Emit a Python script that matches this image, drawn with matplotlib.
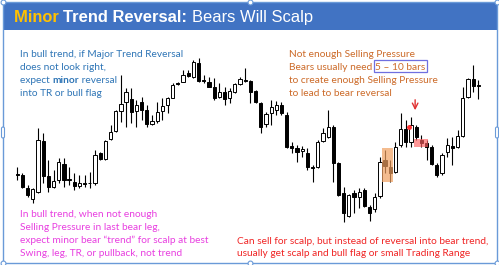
import numpy as np
import matplotlib
matplotlib.use("Agg")
import matplotlib.pyplot as plt
from matplotlib.patches import Rectangle, FancyBboxPatch

# candles (arbitrary price units)
opens = [76, 75, 62, 51, 58, 109, 74, 63, 70, 86, 71, 68, 64, 67, 67.5, 67, 97, 91, 111, 119,
         139, 148, 151, 139, 148, 140, 126, 129, 139, 145, 152, 167, 168, 177, 173, 187, 170, 168, 163, 153,
         158, 152, 158, 166, 170, 169, 159, 147, 126, 137, 140, 145, 135, 104, 102, 99, 97, 83, 83, 109,
         113, 123, 87, 57, 34, 57, 53, 60, 43, 41, 54, 90, 83, 78, 105, 121, 108, 123, 110, 107,
         103, 85, 77, 98, 104, 103, 114, 153, 171, 165]
highs = [83, 77, 65, 62, 122, 117, 90, 80, 92, 92, 83, 77, 75, 75, 78, 100, 98, 110, 125, 140,
         175, 162, 162, 150, 153, 145, 135, 148, 152, 153, 167, 168, 180, 180, 190, 192, 175, 173, 172, 167,
         163, 162, 167, 173, 182, 170, 160, 148, 138, 150, 149, 148, 138, 108, 105, 104, 102, 85, 110, 122,
         140, 125, 88, 63, 56, 60, 62, 62, 45, 57, 93, 100, 90, 108, 137, 130, 133, 125, 115, 110,
         105, 87, 97, 112, 113, 120, 163, 172, 185, 170]
lows = [70, 62, 53, 47, 57, 67, 58, 62, 67, 63, 65, 60, 62, 63, 62, 65, 90, 90, 110, 118,
        128, 123, 127, 123, 130, 123, 125, 127, 130, 137, 152, 165, 168, 173, 172, 168, 167, 163, 150, 152,
        145, 147, 157, 165, 168, 147, 147, 117, 123, 125, 135, 135, 102, 97, 88, 93, 80, 68, 82, 108,
        112, 68, 54, 28, 33, 37, 42, 43, 29, 38, 52, 77, 68, 77, 103, 103, 103, 110, 103, 90,
        85, 73, 75, 93, 85, 102, 113, 152, 158, 151]
closes = [75, 63, 55, 61, 110, 74, 63, 69, 88, 70, 70, 64, 67, 66.5, 67, 95, 91, 109, 118, 139,
          146, 158, 138, 145, 140, 126, 129, 138, 144, 152, 165, 166.5, 175, 174, 188, 169, 169.5, 163, 152, 158,
          151, 159, 166, 171, 169.5, 158, 148, 123, 136, 143, 145, 137, 103, 102, 98, 101, 83, 82.5, 108, 117,
          123, 87, 55, 37, 55, 53, 58, 44, 37, 53, 88, 84, 77, 103, 121, 108, 125, 113, 107, 103,
          86, 75, 95, 105, 102, 114, 152, 171, 164, 164.5]

fig = plt.figure(figsize=(4.99, 2.65), dpi=100)
fig.patch.set_facecolor("white")

# price chart
ax = fig.add_axes([0, 0, 1, 1])
ax.set_xlim(-3.34, 92.99)
ax.set_ylim(-15, 250)
ax.axis("off")

x = np.arange(len(opens))
o = np.array(opens, dtype=float)
c = np.array(closes, dtype=float)
h = np.array(highs, dtype=float)
l = np.array(lows, dtype=float)
up = c >= o
ax.vlines(x, l, h, color="black", lw=0.8, zorder=2)
ax.bar(x[up], c[up] - o[up], bottom=o[up], width=0.62, color="white",
       edgecolor="black", lw=0.7, zorder=3)
ax.bar(x[~up], o[~up] - c[~up], bottom=c[~up], width=0.62, color="black",
       edgecolor="black", lw=0.7, zorder=3)

# highlight boxes, signal dot and arrow
ax.add_patch(Rectangle((70.4, 68), 2.1, 34, color="#F0A060", alpha=0.7, lw=0, zorder=4))
ax.add_patch(Rectangle((76.6, 103), 2.7, 8, color="#FF6060", alpha=0.65, lw=0, zorder=4))
ax.plot([75.6], [123], "o", color="#FF3030", ms=2.5, zorder=5)
ax.annotate("", xy=(76.8, 137), xytext=(76.8, 153),
            arrowprops=dict(arrowstyle="->", color="#E03030", lw=1.0))

# slide overlay in pixel units
ov = fig.add_axes([0, 0, 1, 1], zorder=5)
ov.set_xlim(0, 499)
ov.set_ylim(265, 0)
ov.axis("off")
ov.patch.set_alpha(0)

ov.add_patch(Rectangle((3, 2), 494, 27.5, color="#4173C3", lw=0))
ov.add_patch(Rectangle((3, 2), 494, 261, fill=False, edgecolor="#6A9AD8", lw=1.0))
for hx, hy in [(3, 2), (250, 2), (497, 2), (3, 263), (250, 263), (497, 263)]:
    ov.plot([hx], [hy], "o", ms=3.5, mfc="white", mec="#6A9AD8", mew=0.8)
for hx in [3, 497]:
    ov.add_patch(FancyBboxPatch((hx - 1.5, 127), 3, 11, boxstyle="round,pad=0,rounding_size=1.5",
                                fc="white", ec="#6A9AD8", lw=0.8))

renderer = fig.canvas.get_renderer()


def runs(x0, y0, parts, size, family):
    xx = x0
    out = []
    for s, col, wt in parts:
        t = ov.text(xx, y0, s, color=col, fontsize=size, fontweight=wt,
                    family=family, va="baseline", ha="left")
        bb = t.get_window_extent(renderer)
        out.append((xx, bb.width))
        xx += bb.width
    return out


# title
runs(14, 22, [("Minor ", "#FFC000", "bold"), ("Trend Reversal: ", "white", "bold"),
              ("Bears Will Scalp", "white", "normal")], 11.9, "Liberation Sans")

fs = 7.25
fam = "Lato"
blue = "#2E75B6"
runs(20, 57, [("In bull trend, if Major Trend Reversal", blue, "normal")], fs, fam)
runs(20, 70, [("does not look right,", blue, "normal")], fs, fam)
runs(20, 83, [("expect ", blue, "normal"), ("minor", blue, "bold"), (" reversal", blue, "normal")], fs, fam)
runs(20, 96, [("into TR or bull flag", blue, "normal")], fs, fam)

orange = "#CC6A28"
runs(289, 57, [("Not enough Selling Pressure", orange, "normal")], fs, fam)
seg = runs(289, 70, [("Bears usually need ", orange, "normal"), ("5 \u2013 10 bars", orange, "normal")], fs, fam)
bx, bw = seg[1]
ov.add_patch(Rectangle((bx - 1, 59.5), bw + 3, 12.5, fill=False, edgecolor="#6F6FE0", lw=0.9))
runs(289, 83, [("to create enough Selling Pressure", orange, "normal")], fs, fam)
runs(289, 96, [("to lead to bear reversal", orange, "normal")], fs, fam)

pink = "#E83FE0"
runs(20, 217, [("In bull trend, when not enough", pink, "normal")], fs, fam)
runs(20, 230, [("Selling Pressure in last bear leg,", pink, "normal")], fs, fam)
runs(20, 243, [("expect minor bear \u201ctrend\u201d for scalp at best", pink, "normal")], fs, fam)
runs(20, 256, [("Swing, leg, TR, or pullback, not trend", pink, "normal")], fs, fam)

red = "#F02424"
runs(237, 244, [("Can sell for scalp, but instead of reversal into bear trend,", red, "normal")], fs, fam)
runs(237, 256, [("usually get scalp and bull flag or small Trading Range", red, "normal")], fs, fam)

fig.savefig("out.png", dpi=100)
